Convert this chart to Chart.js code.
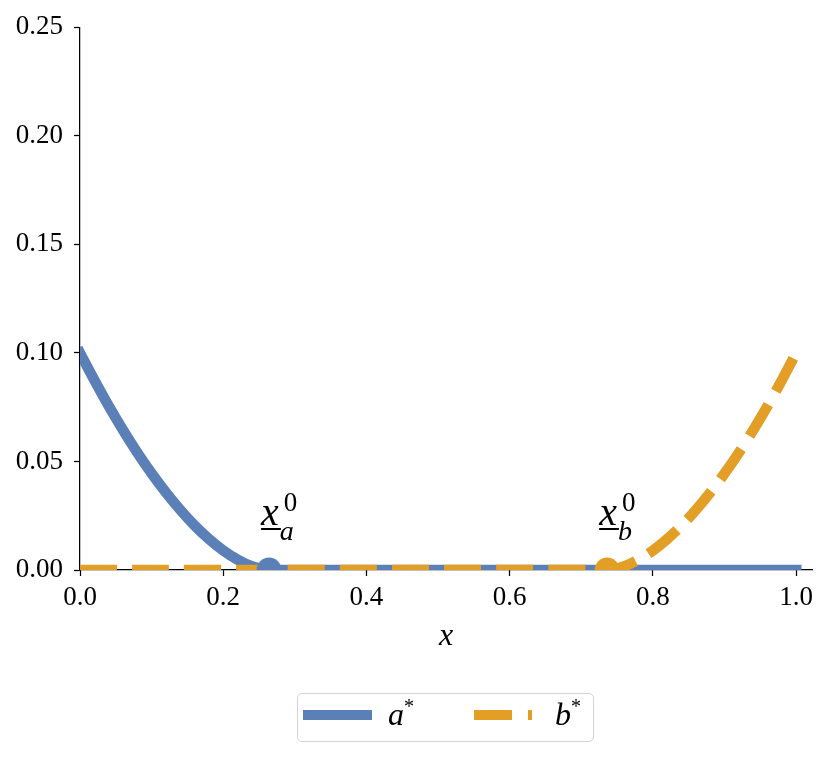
<!DOCTYPE html>
<html>
<head>
  <title>a* and b* against x</title>
  <script src="https://cdn.jsdelivr.net/npm/chart.js@4.4.0/dist/chart.umd.min.js"></script>
  <style>
    body {
      margin: 0;
      padding: 0;
      background: #fff;
      overflow: hidden;
    }
    .wrap {
      position: relative;
      width: 830px;
      height: 757px;
    }
    .legend {
      position: absolute;
      left: 297px;
      top: 693px;
      width: 297px;
      height: 49px;
      box-sizing: border-box;
      border: 1.5px solid #d3d3d3;
      border-radius: 5px;
      font-family: "Liberation Serif", serif;
      font-style: italic;
      font-size: 32px;
      color: #000;
    }
    .legend .swatch {
      position: absolute;
      top: 16px;
      height: 10px;
    }
    .legend .label {
      position: absolute;
      top: 4px;
      line-height: 32px;
    }
    .legend sup {
      font-style: normal;
      font-size: 20px;
      vertical-align: 12px;
      line-height: 0;
    }
  </style>
</head>
<body>
  <div class="wrap">
    <canvas id="chart" width="830" height="757"></canvas>
    <div class="legend">
      <div class="swatch" style="left:5px;width:69px;background:#5b7fb7"></div>
      <div class="label" style="left:90px">a<sup>*</sup></div>
      <div class="swatch" style="left:176px;width:38px;background:#e39e26"></div>
      <div class="swatch" style="left:230px;width:4px;background:#e39e26"></div>
      <div class="label" style="left:257px">b<sup>*</sup></div>
    </div>
  </div>

  <script>
    // values
    const xs = [0, 0.02, 0.04, 0.06, 0.08, 0.10, 0.12, 0.14, 0.16, 0.18, 0.20, 0.22, 0.24, 0.264,
                0.736, 0.76, 0.78, 0.80, 0.82, 0.84, 0.86, 0.88, 0.90, 0.92, 0.94, 0.96, 0.98, 1.0];
    const aStar = [0.100, 0.0875, 0.0756, 0.0645, 0.0541, 0.0445, 0.0357, 0.0277, 0.0205, 0.0143, 0.0090, 0.0048, 0.0017, 0,
                   0, 0, 0, 0, 0, 0, 0, 0, 0, 0, 0, 0, 0, 0];
    const bStar = [0, 0, 0, 0, 0, 0, 0, 0, 0, 0, 0, 0, 0, 0,
                   0, 0.0017, 0.0048, 0.0090, 0.0143, 0.0205, 0.0277, 0.0357, 0.0445, 0.0541, 0.0645, 0.0756, 0.0875, 0.100];
    const thresholds = [0.264, 0.736];   // x_a^0, x_b^0
    const thresholdSubs = ['a', 'b'];
    const xTicks = [0, 0.2, 0.4, 0.6, 0.8, 1.0];
    const xTickLabels = ['0.0', '0.2', '0.4', '0.6', '0.8', '1.0'];
    const yTicks = [0, 0.05, 0.10, 0.15, 0.20, 0.25];
    const yTickLabels = ['0.00', '0.05', '0.10', '0.15', '0.20', '0.25'];

    const BLUE = '#5b7fb7';
    const ORANGE = '#e39e26';
    const SERIF = '"Liberation Serif", serif';

    const toPoints = ys => xs.map((x, i) => ({ x: x, y: ys[i] }));

    // underlined x with sub/superscript next to each threshold marker
    const thresholdLabels = {
      id: 'thresholdLabels',
      afterDatasetsDraw(chart) {
        const { ctx, scales } = chart;
        ctx.save();
        ctx.fillStyle = '#000';
        ctx.textBaseline = 'alphabetic';
        thresholds.forEach((t, i) => {
          const px = scales.x.getPixelForValue(t) - 8;
          const py = scales.y.getPixelForValue(0) - 45;
          ctx.font = 'italic 40px ' + SERIF;
          ctx.fillText('x', px, py);
          const w = ctx.measureText('x').width;
          ctx.fillRect(px, py + 3, w + 2, 2);
          ctx.font = 'italic 28px ' + SERIF;
          ctx.fillText(thresholdSubs[i], px + w + 1, py + 15);
          ctx.font = '27px ' + SERIF;
          ctx.fillText('0', px + w + 5, py - 14);
        });
        ctx.restore();
      }
    };

    const tickFont = { family: SERIF, size: 27 };
    const axisGrid = { display: true, drawOnChartArea: false, drawTicks: true, tickLength: 6, tickWidth: 1.25, tickColor: '#000' };
    const axisBorder = { display: true, color: '#000', width: 1.25 };

    new Chart(document.getElementById('chart'), {
      type: 'scatter',
      data: {
        datasets: [
          {
            label: 'x_b^0', data: [{ x: thresholds[1], y: 0 }],
            pointRadius: 12.5, pointBackgroundColor: ORANGE, pointBorderWidth: 0, clip: 0, order: 0
          },
          {
            label: 'x_a^0', data: [{ x: thresholds[0], y: 0 }],
            pointRadius: 12.5, pointBackgroundColor: BLUE, pointBorderWidth: 0, clip: 0, order: 1
          },
          {
            label: 'b*', data: toPoints(bStar), showLine: true,
            borderColor: ORANGE, borderWidth: 10.5, borderDash: [37, 15], borderCapStyle: 'butt',
            borderJoinStyle: 'round', pointRadius: 0, tension: 0.3, clip: 0, order: 2
          },
          {
            label: 'a*', data: toPoints(aStar), showLine: true,
            borderColor: BLUE, borderWidth: 10.5, borderCapStyle: 'square',
            borderJoinStyle: 'round', pointRadius: 0, tension: 0.3,
            clip: { left: 0, top: false, right: 10, bottom: 0 }, order: 3
          }
        ]
      },
      options: {
        responsive: false,
        devicePixelRatio: 1,
        animation: false,
        events: [],
        layout: { padding: { left: 0, top: 24, right: 18, bottom: 97 } },
        plugins: {
          legend: { display: false },
          tooltip: { enabled: false }
        },
        scales: {
          x: {
            type: 'linear',
            min: 0,
            max: 1.022,
            afterBuildTicks: s => { s.ticks = xTicks.map(v => ({ value: v })); },
            afterFit: s => { s.height = 90; },
            ticks: {
              callback: (v, i) => xTickLabels[i],
              color: '#000', font: tickFont, padding: 6, maxRotation: 0, autoSkip: false
            },
            grid: axisGrid,
            border: axisBorder,
            title: {
              display: true, text: 'x', color: '#000',
              font: { family: SERIF, size: 32, style: 'italic' },
              padding: { top: 0, bottom: 4 }
            }
          },
          y: {
            type: 'linear',
            min: 0,
            max: 0.25,
            afterBuildTicks: s => { s.ticks = yTicks.map(v => ({ value: v })); },
            afterFit: s => { s.width = 80; },
            ticks: {
              callback: (v, i) => yTickLabels[i],
              color: '#000', font: tickFont, padding: 11, autoSkip: false
            },
            grid: axisGrid,
            border: axisBorder
          }
        }
      },
      plugins: [thresholdLabels]
    });
  </script>
</body>
</html>
